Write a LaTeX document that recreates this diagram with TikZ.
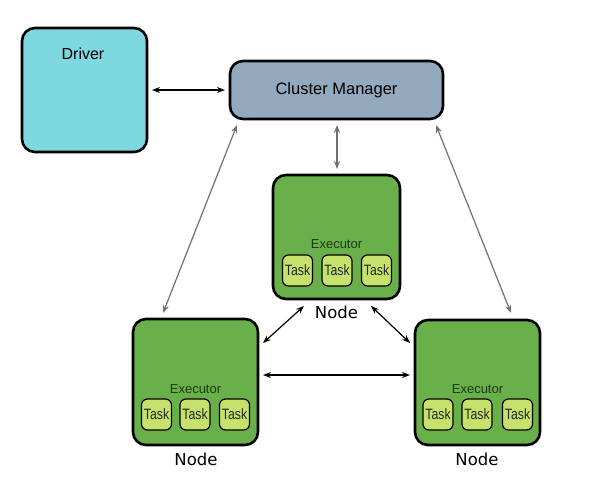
\documentclass[tikz,border=0pt]{standalone}
\usepackage{fontspec}
\usepackage{graphicx}
\setmainfont{Liberation Sans}
\newfontfamily\nodefont{DejaVu Sans}
\usetikzlibrary{arrows.meta}
\definecolor{drivercol}{HTML}{7DD8E0}
\definecolor{cmcol}{HTML}{93A9BD}
\definecolor{nodecol}{HTML}{6AB04A}
\definecolor{taskcol}{HTML}{C6E26C}
\definecolor{execcol}{HTML}{1E3A12}
\definecolor{grayarrow}{HTML}{707070}
\newcommand{\tasktext}{\scalebox{0.82}[1]{Task}}
\tikzset{
  bigbox/.style={draw=black, line width=2.6pt, rounded corners=13pt},
  taskbox/.style={draw=black, line width=1.2pt, rounded corners=6pt, fill=taskcol, minimum width=30pt, minimum height=31pt, inner sep=0pt, font=\fontsize{15}{15}\selectfont, text=black!85},
  execlabel/.style={font=\fontsize{13}{13}\selectfont, text=execcol},
  nodelabel/.style={font=\nodefont\fontsize{16.5}{17}\selectfont},
  blackarr/.style={{Stealth[length=8pt,width=6pt]}-{Stealth[length=8pt,width=6pt]}, line width=1.2pt, black},
  grayarr/.style={{Stealth[length=8pt,width=6pt]}-{Stealth[length=8pt,width=6pt]}, line width=1.2pt, grayarrow}
}
\begin{document}
\begin{tikzpicture}[x=1pt,y=-1pt]
\useasboundingbox (0,0) rectangle (608,485);
% Driver
\draw[bigbox, fill=drivercol] (22,28) rectangle (147,152);
\node[font=\fontsize{16}{16}\selectfont] (drvlabel) at (83,54) {Driver};
\coordinate (drvR) at (152,90);
% Cluster manager
\node[bigbox, fill=cmcol, minimum width=213pt, minimum height=58pt, font=\fontsize{16.5}{17}\selectfont] (cm) at (336.5,90) {Cluster Manager};
\coordinate (cmL) at (225,90);
% Middle node
\draw[bigbox, fill=nodecol] (273,175) rectangle (400,299);
\node[execlabel] (exm) at (336.5,244) {Executor};
\node[taskbox] (tm1) at (297.5,270.5) {\tasktext};
\node[taskbox] (tm2) at (337,270.5) {\tasktext};
\node[taskbox] (tm3) at (376.5,270.5) {\tasktext};
\node[nodelabel] (nm) at (336.5,312) {Node};
% Left node
\draw[bigbox, fill=nodecol] (133,319) rectangle (258,445);
\node[execlabel] (exl) at (195.5,389) {Executor};
\node[taskbox] (tl1) at (156.5,414.5) {\tasktext};
\node[taskbox] (tl2) at (195,414.5) {\tasktext};
\node[taskbox] (tl3) at (234.5,414.5) {\tasktext};
\node[nodelabel] (nl) at (196,459) {Node};
% Right node
\draw[bigbox, fill=nodecol] (415,320) rectangle (540,445);
\node[execlabel] (exr) at (477.5,389) {Executor};
\node[taskbox] (tr1) at (438,414.5) {\tasktext};
\node[taskbox] (tr2) at (477,414.5) {\tasktext};
\node[taskbox] (tr3) at (517.5,414.5) {\tasktext};
\node[nodelabel] (nr) at (477,459) {Node};
% coordinates for connector ends
\coordinate (cmB1) at (237,125);
\coordinate (cmB2) at (337,125);
\coordinate (cmB3) at (436,125);
\coordinate (midT) at (337,169);
\coordinate (leftT) at (163,313);
\coordinate (rightT) at (511,313);
\coordinate (midBL) at (304,306);
\coordinate (midBR) at (371,306);
\coordinate (leftR1) at (263,343);
\coordinate (leftR2) at (263,375);
\coordinate (rightL1) at (410,343);
\coordinate (rightL2) at (410,375);
% connectors
\draw[blackarr] (drvR) -- (cmL);
\draw[grayarr] (cmB2) -- (midT);
\draw[grayarr] (cmB1) -- (leftT);
\draw[grayarr] (cmB3) -- (rightT);
\draw[blackarr] (midBL) -- (leftR1);
\draw[blackarr] (midBR) -- (rightL1);
\draw[blackarr] (leftR2) -- (rightL2);
\end{tikzpicture}
\end{document}
